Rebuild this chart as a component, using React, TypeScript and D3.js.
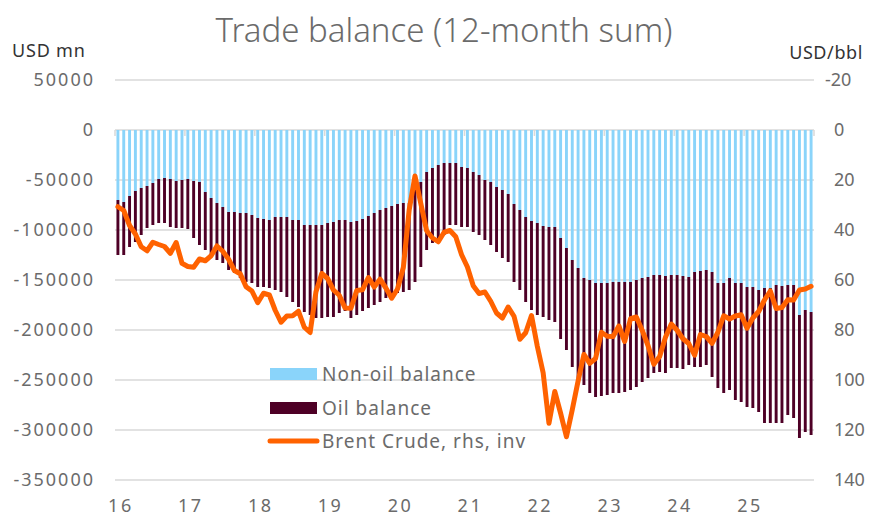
import React from "react";
import * as d3 from "d3";

// 12-month sums, USD mn, Jan 2016 .. Dec 2025
const years = ["16", "17", "18", "19", "20", "21", "22", "23", "24", "25"];
const months = years.flatMap((y) => d3.range(1, 13).map((m) => `20${y}-${String(m).padStart(2, "0")}`));

const nonOilBalance = [
  -70000, -72000, -66000, -61000, -58000, -56000, -53000, -49000, -48000, -49000, -51000, -50000,
  -49000, -51000, -52000, -62000, -68000, -73000, -77000, -82000, -82000, -83000, -83000, -85000,
  -88000, -89000, -90000, -87000, -87000, -87000, -90000, -90000, -95000, -95000, -95000, -95000,
  -93000, -92000, -90000, -90000, -92000, -91000, -89000, -86000, -83000, -80000, -78000, -76000,
  -74000, -73000, -73000, -60000, -52000, -42000, -38000, -35000, -33000, -33000, -33000, -37000,
  -38000, -42000, -45000, -50000, -52000, -57000, -60000, -64000, -74000, -80000, -87000, -91000,
  -93000, -96000, -97000, -97000, -108000, -118000, -130000, -138000, -148000, -150000, -153000, -153000,
  -153000, -152000, -152000, -152000, -152000, -150000, -148000, -147000, -145000, -145000, -146000, -145000,
  -145000, -146000, -147000, -142000, -141000, -140000, -142000, -153000, -153000, -148000, -153000, -153000,
  -157000, -157000, -160000, -158000, -158000, -155000, -156000, -155000, -155000, -185000, -180000, -182000,
];

const oilBalance = [
  -55000, -53000, -51000, -51000, -47000, -42000, -42000, -44000, -45000, -48000, -47000, -48000,
  -50000, -57000, -63000, -58000, -59000, -57000, -56000, -58000, -61000, -65000, -69000, -68000,
  -69000, -68000, -68000, -73000, -75000, -80000, -82000, -87000, -87000, -90000, -93000, -93000,
  -94000, -95000, -93000, -91000, -96000, -94000, -92000, -92000, -92000, -92000, -90000, -89000,
  -89000, -89000, -87000, -92000, -85000, -78000, -75000, -78000, -72000, -62000, -62000, -60000,
  -59000, -60000, -60000, -60000, -63000, -65000, -68000, -68000, -78000, -80000, -85000, -89000,
  -92000, -91000, -93000, -95000, -101000, -102000, -107000, -110000, -107000, -113000, -114000, -113000,
  -112000, -111000, -111000, -110000, -108000, -107000, -104000, -101000, -98000, -97000, -97000, -93000,
  -93000, -93000, -88000, -95000, -96000, -95000, -105000, -105000, -110000, -112000, -117000, -119000,
  -120000, -121000, -122000, -135000, -135000, -138000, -137000, -130000, -133000, -123000, -122000, -123000,
];

// USD/bbl, plotted on an inverted right axis
const brentCrude = [
  30.7, 32.2, 38.2, 41.6, 46.7, 48.3, 44.9, 45.8, 46.6, 49.3, 45.0, 53.3,
  54.6, 54.9, 51.6, 52.3, 50.3, 46.4, 48.5, 51.7, 56.2, 57.5, 62.7, 64.4,
  69.1, 65.3, 66.0, 72.1, 76.9, 74.4, 74.3, 72.5, 78.9, 81.0, 64.7, 57.4,
  59.4, 64.0, 66.1, 71.2, 71.3, 64.2, 63.9, 59.0, 62.8, 59.7, 63.2, 67.3,
  63.6, 55.0, 32.0, 18.4, 29.4, 40.3, 43.2, 44.7, 40.9, 40.2, 42.7, 49.9,
  54.8, 62.3, 65.4, 64.8, 68.5, 73.2, 75.2, 70.8, 74.5, 83.7, 81.1, 74.2,
  86.5, 97.1, 117.3, 104.6, 113.3, 122.7, 111.9, 100.4, 89.8, 93.3, 91.4, 80.9,
  82.5, 82.6, 78.4, 84.6, 75.5, 74.8, 80.1, 86.2, 93.7, 90.6, 82.9, 77.6,
  80.1, 83.5, 85.4, 90.1, 81.8, 82.6, 85.3, 80.9, 74.3, 75.6, 74.4, 73.9,
  79.3, 75.2, 72.6, 68.0, 64.4, 71.4, 71.0, 67.9, 68.0, 64.0, 63.6, 62.5,
];

const leftTicks = [50000, 0, -50000, -100000, -150000, -200000, -250000, -300000, -350000];
const rightTicks = [-20, 0, 20, 40, 60, 80, 100, 120, 140];

const W = 873;
const H = 518;
const FONT = "'Noto Sans', sans-serif";
const TEXT = "#6b6b6b";
const GRID = "#d9d9d9";
const BLUE = "#8ad4fa";
const MAROON = "#4e0026";
const ORANGE = "#ff6200";

export default function App() {
  const x = d3.scaleBand<string>().domain(months).range([115, 814]).paddingInner(0.5).paddingOuter(0.25);
  const y = d3.scaleLinear().domain([-350000, 50000]).range([480, 80]);
  const yR = d3.scaleLinear().domain([140, -20]).range([480, 80]);
  const bw = x.bandwidth();
  const gap = (x.step() - bw) / 2;

  const line = d3
    .line<number>()
    .x((_, i) => (x(months[i]) as number) + bw / 2)
    .y((d) => yR(d));

  const janMonths = months.filter((m) => m.endsWith("-01"));

  return (
    <div style={{ position: "fixed", left: 0, top: 0 }}>
      <svg width={W} height={H} style={{ display: "block", background: "#fff" }} fontFamily={FONT}>
        <text x={444} y={42} textAnchor="middle" fontSize={33} fontWeight={300} fill={TEXT}>
          Trade balance (12-month sum)
        </text>
        <text x={12} y={57} fontSize={18} letterSpacing={0.8} fill="#333">USD mn</text>
        <text x={863} y={59} textAnchor="end" fontSize={18} letterSpacing={0.6} fill="#333">USD/bbl</text>

        {/* gridlines */}
        {leftTicks.map((t) => (
          <line key={t} x1={115} x2={814} y1={y(t)} y2={y(t)} stroke={GRID} strokeWidth={1.5} />
        ))}
        {/* year tick marks on the zero line */}
        {[...janMonths.map((m) => (x(m) as number) - gap), 814].map((tx, i) => (
          <line key={i} x1={tx} x2={tx} y1={y(0)} y2={y(0) + 6} stroke={GRID} strokeWidth={1.5} />
        ))}

        {/* stacked bars */}
        {months.map((m, i) => {
          const bx = x(m) as number;
          const y0 = y(0);
          const y1 = y(nonOilBalance[i]);
          const y2 = y(nonOilBalance[i] + oilBalance[i]);
          return (
            <g key={m}>
              <rect x={bx} y={y0} width={bw} height={y1 - y0} fill={BLUE} />
              <rect x={bx} y={y1} width={bw} height={y2 - y1} fill={MAROON} />
            </g>
          );
        })}

        <path d={line(brentCrude) || ""} fill="none" stroke={ORANGE} strokeWidth={5} strokeLinejoin="round" strokeLinecap="round" />

        {/* left axis labels */}
        {leftTicks.map((t) => (
          <text key={t} x={95} y={y(t)} dy="0.35em" textAnchor="end" fontSize={18} letterSpacing={2} fill={TEXT}>
            {t}
          </text>
        ))}
        {/* right axis labels */}
        {rightTicks.map((t) => (
          <text key={t} x={t < 0 ? 825 : 834} y={yR(t)} dy="0.35em" fontSize={18} fill={TEXT}>
            {t}
          </text>
        ))}
        {/* x labels */}
        {janMonths.map((m, i) => (
          <text key={m} x={(x(m) as number) + bw / 2 + 3} y={512} textAnchor="middle" fontSize={18} letterSpacing={2.5} fill={TEXT}>
            {years[i]}
          </text>
        ))}

        {/* legend */}
        <rect x={270} y={368} width={47} height={12} fill={BLUE} />
        <text x={322} y={381} fontSize={19} letterSpacing={1} fill={TEXT}>Non-oil balance</text>
        <rect x={270} y={402} width={47} height={12} fill={MAROON} />
        <text x={322} y={415} fontSize={19} letterSpacing={1} fill={TEXT}>Oil balance</text>
        <line x1={270} x2={317} y1={441} y2={441} stroke={ORANGE} strokeWidth={5} strokeLinecap="round" />
        <text x={322} y={448} fontSize={19} letterSpacing={1} fill={TEXT}>Brent Crude, rhs, inv</text>
      </svg>
    </div>
  );
}
